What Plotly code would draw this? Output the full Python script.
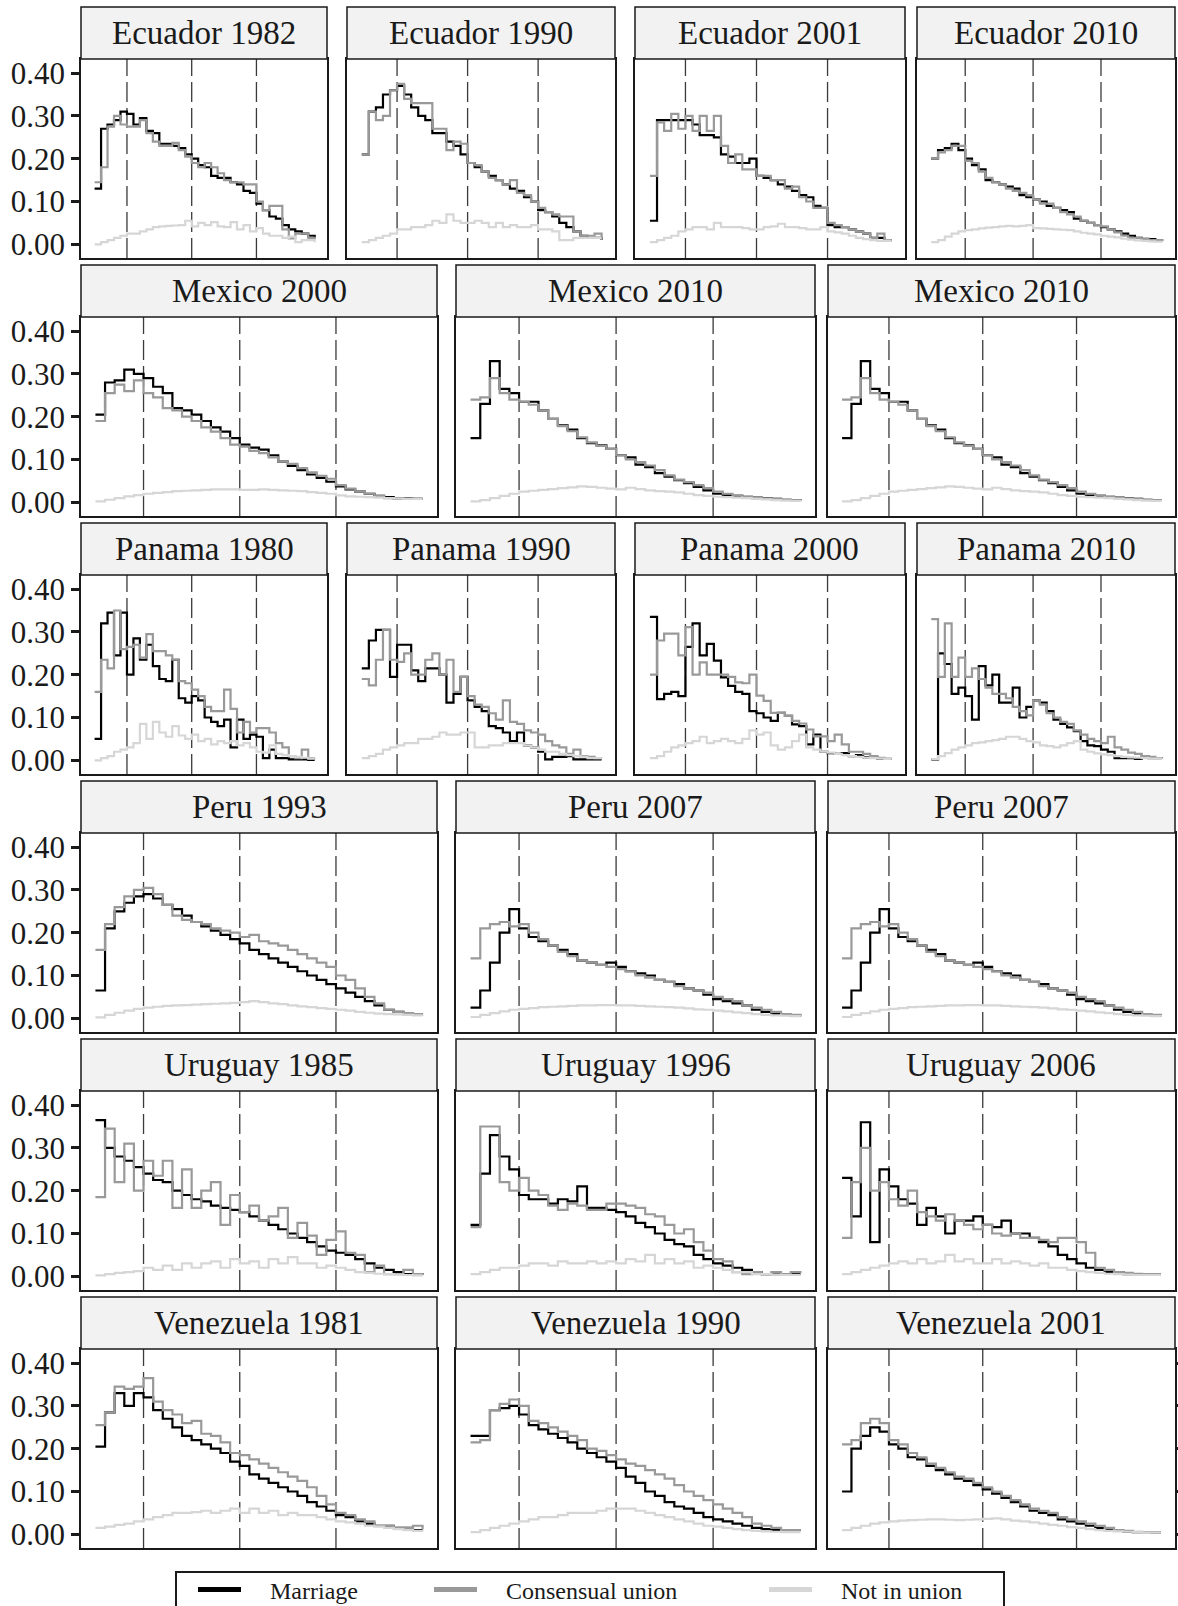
import plotly.graph_objects as go

# ---------------- data ----------------
ages = list(range(15, 50))
reference_ages = [20, 30, 40]
y_tick_values = [0.0, 0.1, 0.2, 0.3, 0.4]
y_tick_labels = ["0.00", "0.10", "0.20", "0.30", "0.40"]
series_names = ["Marriage", "Consensual union", "Not in union"]

ecuador_1982_marriage = [0.13, 0.27, 0.28, 0.29, 0.31, 0.305, 0.28, 0.295, 0.265, 0.26, 0.235, 0.235, 0.23, 0.225, 0.21, 0.20, 0.185, 0.18, 0.16, 0.155, 0.155, 0.145, 0.14, 0.125, 0.12, 0.095, 0.08, 0.065, 0.06, 0.045, 0.035, 0.03, 0.025, 0.02, 0.015]
ecuador_1982_consensual = [0.145, 0.18, 0.275, 0.30, 0.28, 0.275, 0.275, 0.29, 0.26, 0.24, 0.23, 0.23, 0.237, 0.22, 0.205, 0.19, 0.18, 0.19, 0.18, 0.166, 0.15, 0.145, 0.145, 0.14, 0.14, 0.10, 0.08, 0.09, 0.09, 0.035, 0.014, 0.025, 0.025, 0.015, 0.012]
ecuador_1982_not_in_union = [0.0, 0.005, 0.01, 0.015, 0.02, 0.025, 0.025, 0.03, 0.035, 0.04, 0.042, 0.043, 0.044, 0.045, 0.055, 0.042, 0.05, 0.045, 0.052, 0.042, 0.04, 0.052, 0.035, 0.045, 0.03, 0.038, 0.025, 0.02, 0.02, 0.015, 0.018, 0.005, 0.01, 0.01, 0.005]

ecuador_1990_marriage = [0.21, 0.31, 0.32, 0.35, 0.36, 0.37, 0.35, 0.32, 0.30, 0.29, 0.26, 0.26, 0.24, 0.23, 0.21, 0.19, 0.18, 0.17, 0.16, 0.15, 0.14, 0.13, 0.125, 0.11, 0.10, 0.08, 0.075, 0.065, 0.05, 0.04, 0.03, 0.02, 0.015, 0.015, 0.01]
ecuador_1990_consensual = [0.21, 0.31, 0.29, 0.30, 0.36, 0.375, 0.34, 0.33, 0.33, 0.33, 0.27, 0.27, 0.22, 0.24, 0.235, 0.19, 0.185, 0.17, 0.155, 0.15, 0.14, 0.15, 0.12, 0.115, 0.10, 0.085, 0.075, 0.07, 0.065, 0.065, 0.03, 0.02, 0.02, 0.025, 0.01]
ecuador_1990_not_in_union = [0.005, 0.01, 0.015, 0.02, 0.025, 0.035, 0.035, 0.04, 0.04, 0.045, 0.055, 0.05, 0.07, 0.055, 0.05, 0.05, 0.055, 0.05, 0.04, 0.05, 0.04, 0.045, 0.04, 0.04, 0.045, 0.035, 0.035, 0.03, 0.01, 0.01, 0.015, 0.015, 0.015, 0.015, 0.015]

ecuador_2001_marriage = [0.055, 0.29, 0.29, 0.29, 0.29, 0.29, 0.28, 0.255, 0.255, 0.25, 0.21, 0.205, 0.19, 0.19, 0.20, 0.16, 0.155, 0.15, 0.14, 0.135, 0.125, 0.115, 0.11, 0.09, 0.085, 0.045, 0.04, 0.04, 0.035, 0.03, 0.025, 0.015, 0.015, 0.01, 0.01]
ecuador_2001_consensual = [0.16, 0.285, 0.265, 0.305, 0.27, 0.30, 0.265, 0.30, 0.265, 0.30, 0.23, 0.19, 0.21, 0.175, 0.175, 0.16, 0.16, 0.15, 0.15, 0.13, 0.135, 0.11, 0.10, 0.085, 0.085, 0.05, 0.045, 0.04, 0.035, 0.03, 0.025, 0.015, 0.025, 0.01, 0.01]
ecuador_2001_not_in_union = [0.005, 0.01, 0.015, 0.02, 0.03, 0.035, 0.04, 0.04, 0.035, 0.05, 0.04, 0.04, 0.04, 0.038, 0.035, 0.035, 0.04, 0.042, 0.048, 0.04, 0.04, 0.038, 0.035, 0.035, 0.04, 0.03, 0.028, 0.025, 0.02, 0.015, 0.012, 0.01, 0.008, 0.008, 0.008]

ecuador_2010_marriage = [0.20, 0.22, 0.225, 0.235, 0.22, 0.20, 0.185, 0.175, 0.15, 0.145, 0.14, 0.135, 0.13, 0.115, 0.11, 0.105, 0.10, 0.09, 0.085, 0.08, 0.075, 0.06, 0.055, 0.05, 0.045, 0.04, 0.035, 0.03, 0.025, 0.02, 0.015, 0.013, 0.012, 0.01, 0.008]
ecuador_2010_consensual = [0.20, 0.215, 0.22, 0.23, 0.23, 0.195, 0.19, 0.17, 0.155, 0.145, 0.14, 0.13, 0.125, 0.12, 0.115, 0.105, 0.095, 0.095, 0.085, 0.075, 0.07, 0.065, 0.055, 0.05, 0.045, 0.042, 0.035, 0.028, 0.02, 0.015, 0.015, 0.012, 0.01, 0.01, 0.008]
ecuador_2010_not_in_union = [0.005, 0.01, 0.018, 0.025, 0.03, 0.033, 0.035, 0.037, 0.039, 0.04, 0.042, 0.043, 0.042, 0.043, 0.045, 0.038, 0.037, 0.036, 0.035, 0.034, 0.033, 0.03, 0.027, 0.025, 0.023, 0.02, 0.018, 0.016, 0.013, 0.011, 0.009, 0.008, 0.007, 0.006, 0.005]

mexico_2000_marriage = [0.205, 0.28, 0.285, 0.31, 0.30, 0.29, 0.27, 0.255, 0.22, 0.215, 0.205, 0.19, 0.175, 0.165, 0.15, 0.135, 0.128, 0.123, 0.11, 0.095, 0.085, 0.075, 0.065, 0.057, 0.048, 0.037, 0.03, 0.025, 0.02, 0.015, 0.012, 0.01, 0.009, 0.008, 0.008]
mexico_2000_consensual = [0.19, 0.255, 0.275, 0.26, 0.285, 0.255, 0.245, 0.22, 0.215, 0.20, 0.19, 0.175, 0.165, 0.15, 0.135, 0.13, 0.12, 0.115, 0.105, 0.095, 0.09, 0.08, 0.07, 0.062, 0.055, 0.04, 0.032, 0.025, 0.02, 0.015, 0.01, 0.008, 0.008, 0.009, 0.009]
mexico_2000_not_in_union = [0.002, 0.006, 0.01, 0.014, 0.017, 0.02, 0.022, 0.024, 0.026, 0.027, 0.028, 0.029, 0.03, 0.03, 0.03, 0.029, 0.029, 0.03, 0.029, 0.028, 0.027, 0.026, 0.024, 0.022, 0.02, 0.016, 0.014, 0.013, 0.012, 0.011, 0.01, 0.009, 0.008, 0.008, 0.008]

mexico_2010_marriage = [0.15, 0.23, 0.33, 0.265, 0.255, 0.235, 0.235, 0.215, 0.195, 0.18, 0.17, 0.15, 0.138, 0.133, 0.125, 0.11, 0.105, 0.088, 0.082, 0.068, 0.06, 0.052, 0.045, 0.036, 0.028, 0.02, 0.016, 0.015, 0.013, 0.011, 0.01, 0.008, 0.006, 0.005, 0.004]
mexico_2010_consensual = [0.24, 0.245, 0.29, 0.255, 0.24, 0.235, 0.228, 0.215, 0.195, 0.178, 0.166, 0.152, 0.14, 0.132, 0.125, 0.11, 0.10, 0.094, 0.086, 0.075, 0.063, 0.053, 0.047, 0.04, 0.033, 0.025, 0.02, 0.016, 0.013, 0.011, 0.009, 0.008, 0.006, 0.005, 0.004]
mexico_2010_not_in_union = [0.002, 0.005, 0.01, 0.015, 0.02, 0.025, 0.027, 0.029, 0.031, 0.033, 0.035, 0.037, 0.036, 0.034, 0.032, 0.03, 0.034, 0.031, 0.028, 0.026, 0.025, 0.023, 0.02, 0.017, 0.015, 0.013, 0.012, 0.011, 0.01, 0.008, 0.007, 0.005, 0.004, 0.003, 0.002]

panama_1980_marriage = [0.05, 0.32, 0.345, 0.245, 0.345, 0.20, 0.285, 0.235, 0.27, 0.22, 0.19, 0.185, 0.235, 0.145, 0.135, 0.15, 0.14, 0.10, 0.09, 0.08, 0.095, 0.03, 0.095, 0.05, 0.06, 0.055, 0.005, 0.025, 0.005, 0.005, 0.002, 0.002, 0.002, 0.001, 0.001]
panama_1980_consensual = [0.16, 0.235, 0.215, 0.35, 0.26, 0.265, 0.27, 0.24, 0.295, 0.255, 0.255, 0.245, 0.235, 0.185, 0.18, 0.165, 0.15, 0.125, 0.115, 0.115, 0.165, 0.12, 0.065, 0.09, 0.065, 0.075, 0.075, 0.065, 0.04, 0.03, 0.01, 0.005, 0.025, 0.005, 0.005]
panama_1980_not_in_union = [0.0, 0.005, 0.01, 0.02, 0.025, 0.03, 0.04, 0.085, 0.05, 0.09, 0.065, 0.055, 0.08, 0.058, 0.05, 0.06, 0.045, 0.05, 0.037, 0.045, 0.04, 0.045, 0.035, 0.04, 0.03, 0.02, 0.018, 0.035, 0.015, 0.012, 0.01, 0.008, 0.006, 0.004, 0.003]

panama_1990_marriage = [0.215, 0.28, 0.305, 0.305, 0.195, 0.27, 0.27, 0.21, 0.185, 0.215, 0.215, 0.20, 0.135, 0.155, 0.195, 0.14, 0.125, 0.115, 0.08, 0.075, 0.065, 0.045, 0.065, 0.035, 0.03, 0.02, 0.002, 0.008, 0.008, 0.01, 0.002, 0.002, 0.002, 0.002, 0.002]
panama_1990_consensual = [0.19, 0.175, 0.235, 0.305, 0.235, 0.23, 0.25, 0.20, 0.20, 0.235, 0.25, 0.20, 0.235, 0.16, 0.195, 0.15, 0.13, 0.125, 0.11, 0.095, 0.14, 0.09, 0.085, 0.07, 0.065, 0.06, 0.045, 0.035, 0.03, 0.015, 0.025, 0.01, 0.008, 0.005, 0.005]
panama_1990_not_in_union = [0.005, 0.01, 0.015, 0.025, 0.03, 0.035, 0.04, 0.04, 0.05, 0.05, 0.055, 0.065, 0.06, 0.06, 0.065, 0.065, 0.03, 0.03, 0.035, 0.035, 0.04, 0.04, 0.04, 0.035, 0.03, 0.025, 0.02, 0.02, 0.015, 0.012, 0.01, 0.008, 0.005, 0.005, 0.004]

panama_2000_marriage = [0.335, 0.143, 0.155, 0.16, 0.15, 0.265, 0.32, 0.245, 0.272, 0.233, 0.194, 0.174, 0.16, 0.155, 0.115, 0.11, 0.10, 0.092, 0.111, 0.104, 0.084, 0.08, 0.037, 0.06, 0.02, 0.017, 0.015, 0.017, 0.01, 0.012, 0.007, 0.008, 0.003, 0.003, 0.003]
panama_2000_consensual = [0.20, 0.28, 0.296, 0.296, 0.245, 0.311, 0.20, 0.229, 0.20, 0.20, 0.20, 0.195, 0.182, 0.18, 0.20, 0.151, 0.139, 0.111, 0.111, 0.104, 0.092, 0.086, 0.072, 0.056, 0.056, 0.045, 0.06, 0.037, 0.02, 0.02, 0.015, 0.01, 0.006, 0.004, 0.004]
panama_2000_not_in_union = [0.005, 0.01, 0.02, 0.03, 0.035, 0.04, 0.045, 0.055, 0.04, 0.045, 0.05, 0.045, 0.04, 0.05, 0.07, 0.06, 0.065, 0.035, 0.025, 0.03, 0.045, 0.06, 0.03, 0.025, 0.02, 0.018, 0.015, 0.012, 0.01, 0.008, 0.006, 0.005, 0.004, 0.003, 0.003]

panama_2010_marriage = [0.002, 0.25, 0.225, 0.155, 0.17, 0.15, 0.095, 0.22, 0.175, 0.20, 0.135, 0.135, 0.17, 0.10, 0.125, 0.14, 0.135, 0.115, 0.095, 0.085, 0.077, 0.068, 0.045, 0.035, 0.033, 0.025, 0.02, 0.005, 0.005, 0.005, 0.003, 0.01, 0.005, 0.005, 0.005]
panama_2010_consensual = [0.33, 0.195, 0.32, 0.195, 0.24, 0.195, 0.215, 0.19, 0.17, 0.155, 0.155, 0.145, 0.125, 0.115, 0.105, 0.14, 0.13, 0.11, 0.10, 0.09, 0.085, 0.07, 0.06, 0.05, 0.045, 0.04, 0.055, 0.03, 0.025, 0.018, 0.015, 0.01, 0.008, 0.005, 0.004]
panama_2010_not_in_union = [0.003, 0.01, 0.017, 0.025, 0.03, 0.035, 0.04, 0.042, 0.045, 0.047, 0.05, 0.055, 0.055, 0.05, 0.045, 0.042, 0.035, 0.033, 0.03, 0.035, 0.04, 0.045, 0.025, 0.02, 0.016, 0.014, 0.012, 0.01, 0.008, 0.007, 0.006, 0.005, 0.004, 0.004, 0.004]

peru_1993_marriage = [0.065, 0.21, 0.25, 0.27, 0.285, 0.29, 0.28, 0.265, 0.255, 0.24, 0.225, 0.215, 0.205, 0.195, 0.185, 0.175, 0.16, 0.15, 0.14, 0.13, 0.12, 0.11, 0.10, 0.09, 0.08, 0.07, 0.06, 0.05, 0.04, 0.03, 0.02, 0.015, 0.012, 0.01, 0.01]
peru_1993_consensual = [0.16, 0.22, 0.26, 0.285, 0.30, 0.305, 0.29, 0.265, 0.24, 0.23, 0.225, 0.22, 0.21, 0.205, 0.20, 0.19, 0.195, 0.18, 0.175, 0.17, 0.16, 0.15, 0.14, 0.13, 0.12, 0.10, 0.09, 0.07, 0.05, 0.035, 0.02, 0.015, 0.012, 0.01, 0.01]
peru_1993_not_in_union = [0.002, 0.008, 0.013, 0.018, 0.022, 0.025, 0.027, 0.029, 0.03, 0.031, 0.032, 0.033, 0.034, 0.035, 0.036, 0.038, 0.04, 0.038, 0.035, 0.033, 0.03, 0.028, 0.026, 0.024, 0.022, 0.02, 0.018, 0.015, 0.013, 0.011, 0.01, 0.009, 0.008, 0.007, 0.006]

peru_2007_marriage = [0.025, 0.065, 0.13, 0.20, 0.255, 0.21, 0.19, 0.18, 0.17, 0.16, 0.15, 0.135, 0.13, 0.125, 0.13, 0.12, 0.11, 0.105, 0.10, 0.09, 0.085, 0.08, 0.07, 0.065, 0.055, 0.045, 0.04, 0.035, 0.03, 0.02, 0.015, 0.01, 0.008, 0.006, 0.005]
peru_2007_consensual = [0.14, 0.21, 0.22, 0.225, 0.215, 0.22, 0.20, 0.185, 0.17, 0.155, 0.145, 0.135, 0.13, 0.125, 0.12, 0.115, 0.11, 0.10, 0.095, 0.09, 0.085, 0.075, 0.07, 0.065, 0.06, 0.05, 0.045, 0.04, 0.03, 0.025, 0.02, 0.015, 0.01, 0.008, 0.006]
peru_2007_not_in_union = [0.003, 0.008, 0.012, 0.016, 0.02, 0.022, 0.024, 0.026, 0.027, 0.028, 0.029, 0.03, 0.03, 0.031, 0.031, 0.03, 0.03, 0.029, 0.028, 0.027, 0.026, 0.025, 0.023, 0.021, 0.02, 0.018, 0.016, 0.014, 0.012, 0.01, 0.008, 0.007, 0.006, 0.005, 0.004]

uruguay_1985_marriage = [0.365, 0.30, 0.28, 0.27, 0.255, 0.24, 0.225, 0.22, 0.20, 0.19, 0.18, 0.175, 0.165, 0.16, 0.155, 0.15, 0.14, 0.13, 0.12, 0.11, 0.10, 0.09, 0.08, 0.07, 0.06, 0.055, 0.05, 0.04, 0.03, 0.02, 0.015, 0.01, 0.005, 0.005, 0.004]
uruguay_1985_consensual = [0.185, 0.345, 0.22, 0.31, 0.20, 0.27, 0.235, 0.27, 0.16, 0.25, 0.16, 0.20, 0.22, 0.12, 0.19, 0.15, 0.165, 0.13, 0.14, 0.16, 0.09, 0.125, 0.095, 0.05, 0.085, 0.105, 0.055, 0.05, 0.01, 0.025, 0.005, 0.005, 0.015, 0.005, 0.003]
uruguay_1985_not_in_union = [0.002, 0.005, 0.008, 0.01, 0.012, 0.02, 0.015, 0.025, 0.015, 0.03, 0.02, 0.03, 0.035, 0.02, 0.04, 0.03, 0.035, 0.02, 0.04, 0.03, 0.045, 0.03, 0.03, 0.02, 0.025, 0.02, 0.015, 0.01, 0.008, 0.006, 0.005, 0.004, 0.003, 0.002, 0.002]

uruguay_1996_marriage = [0.12, 0.24, 0.33, 0.28, 0.25, 0.19, 0.18, 0.18, 0.17, 0.18, 0.175, 0.21, 0.16, 0.16, 0.155, 0.15, 0.14, 0.125, 0.115, 0.10, 0.085, 0.075, 0.07, 0.05, 0.04, 0.03, 0.025, 0.02, 0.015, 0.01, 0.005, 0.005, 0.005, 0.005, 0.005]
uruguay_1996_consensual = [0.115, 0.35, 0.35, 0.22, 0.20, 0.23, 0.20, 0.19, 0.165, 0.155, 0.17, 0.165, 0.155, 0.155, 0.17, 0.17, 0.165, 0.16, 0.145, 0.14, 0.12, 0.10, 0.11, 0.08, 0.06, 0.04, 0.035, 0.01, 0.005, 0.01, 0.005, 0.01, 0.005, 0.01, 0.008]
uruguay_1996_not_in_union = [0.005, 0.01, 0.015, 0.02, 0.02, 0.025, 0.03, 0.03, 0.025, 0.035, 0.03, 0.03, 0.035, 0.03, 0.035, 0.03, 0.04, 0.035, 0.05, 0.03, 0.04, 0.03, 0.035, 0.02, 0.025, 0.02, 0.015, 0.01, 0.01, 0.005, 0.005, 0.004, 0.003, 0.003, 0.003]

uruguay_2006_marriage = [0.23, 0.14, 0.36, 0.08, 0.25, 0.21, 0.18, 0.17, 0.12, 0.16, 0.14, 0.10, 0.13, 0.13, 0.14, 0.12, 0.115, 0.13, 0.10, 0.10, 0.09, 0.08, 0.07, 0.05, 0.04, 0.03, 0.02, 0.015, 0.01, 0.01, 0.005, 0.005, 0.004, 0.004, 0.004]
uruguay_2006_consensual = [0.09, 0.22, 0.30, 0.20, 0.22, 0.18, 0.165, 0.20, 0.15, 0.14, 0.13, 0.145, 0.13, 0.12, 0.11, 0.12, 0.10, 0.095, 0.10, 0.09, 0.09, 0.085, 0.08, 0.09, 0.09, 0.08, 0.055, 0.02, 0.015, 0.01, 0.008, 0.006, 0.005, 0.005, 0.005]
uruguay_2006_not_in_union = [0.005, 0.01, 0.015, 0.02, 0.025, 0.03, 0.035, 0.03, 0.04, 0.03, 0.035, 0.05, 0.035, 0.04, 0.03, 0.03, 0.04, 0.03, 0.035, 0.03, 0.025, 0.03, 0.02, 0.02, 0.015, 0.012, 0.01, 0.008, 0.006, 0.005, 0.004, 0.003, 0.003, 0.003, 0.003]

venezuela_1981_marriage = [0.205, 0.285, 0.33, 0.30, 0.33, 0.32, 0.29, 0.27, 0.25, 0.23, 0.22, 0.21, 0.20, 0.19, 0.17, 0.16, 0.14, 0.13, 0.12, 0.11, 0.10, 0.09, 0.075, 0.065, 0.055, 0.045, 0.04, 0.03, 0.025, 0.02, 0.02, 0.015, 0.015, 0.01, 0.01]
venezuela_1981_consensual = [0.255, 0.285, 0.345, 0.34, 0.345, 0.365, 0.31, 0.29, 0.28, 0.26, 0.265, 0.235, 0.23, 0.215, 0.19, 0.185, 0.175, 0.165, 0.155, 0.145, 0.135, 0.125, 0.11, 0.09, 0.07, 0.05, 0.045, 0.035, 0.03, 0.02, 0.02, 0.015, 0.015, 0.02, 0.012]
venezuela_1981_not_in_union = [0.015, 0.018, 0.022, 0.025, 0.03, 0.035, 0.04, 0.045, 0.05, 0.05, 0.052, 0.055, 0.05, 0.055, 0.06, 0.05, 0.06, 0.05, 0.055, 0.045, 0.05, 0.045, 0.045, 0.04, 0.035, 0.03, 0.028, 0.025, 0.02, 0.018, 0.015, 0.012, 0.01, 0.008, 0.007]

venezuela_1990_marriage = [0.23, 0.23, 0.29, 0.295, 0.30, 0.28, 0.255, 0.245, 0.235, 0.225, 0.215, 0.20, 0.19, 0.18, 0.17, 0.155, 0.135, 0.12, 0.10, 0.09, 0.075, 0.065, 0.06, 0.05, 0.04, 0.035, 0.03, 0.025, 0.02, 0.015, 0.012, 0.01, 0.01, 0.01, 0.01]
venezuela_1990_consensual = [0.215, 0.22, 0.29, 0.305, 0.315, 0.30, 0.265, 0.26, 0.25, 0.24, 0.23, 0.22, 0.20, 0.195, 0.185, 0.175, 0.165, 0.16, 0.15, 0.14, 0.13, 0.115, 0.10, 0.09, 0.08, 0.07, 0.06, 0.05, 0.04, 0.025, 0.02, 0.015, 0.01, 0.01, 0.01]
venezuela_1990_not_in_union = [0.005, 0.01, 0.015, 0.02, 0.025, 0.03, 0.035, 0.04, 0.04, 0.045, 0.05, 0.05, 0.05, 0.055, 0.06, 0.06, 0.06, 0.055, 0.05, 0.045, 0.04, 0.035, 0.03, 0.025, 0.02, 0.018, 0.015, 0.012, 0.01, 0.008, 0.007, 0.006, 0.005, 0.005, 0.005]

venezuela_2001_marriage = [0.10, 0.20, 0.23, 0.25, 0.24, 0.21, 0.20, 0.18, 0.175, 0.16, 0.15, 0.14, 0.13, 0.125, 0.115, 0.105, 0.095, 0.085, 0.075, 0.065, 0.055, 0.05, 0.045, 0.035, 0.03, 0.025, 0.02, 0.015, 0.01, 0.008, 0.006, 0.005, 0.005, 0.004, 0.004]
venezuela_2001_consensual = [0.21, 0.22, 0.26, 0.27, 0.26, 0.22, 0.21, 0.19, 0.18, 0.165, 0.155, 0.145, 0.135, 0.13, 0.12, 0.11, 0.10, 0.09, 0.08, 0.07, 0.06, 0.055, 0.05, 0.04, 0.035, 0.03, 0.025, 0.02, 0.015, 0.01, 0.008, 0.006, 0.005, 0.005, 0.005]
venezuela_2001_not_in_union = [0.01, 0.015, 0.02, 0.025, 0.028, 0.03, 0.032, 0.033, 0.034, 0.035, 0.035, 0.034, 0.033, 0.034, 0.035, 0.036, 0.037, 0.035, 0.032, 0.03, 0.028, 0.025, 0.022, 0.02, 0.017, 0.015, 0.012, 0.01, 0.008, 0.007, 0.006, 0.005, 0.004, 0.004, 0.004]

panels = {
    "Ecuador 1982": (ecuador_1982_marriage, ecuador_1982_consensual, ecuador_1982_not_in_union),
    "Ecuador 1990": (ecuador_1990_marriage, ecuador_1990_consensual, ecuador_1990_not_in_union),
    "Ecuador 2001": (ecuador_2001_marriage, ecuador_2001_consensual, ecuador_2001_not_in_union),
    "Ecuador 2010": (ecuador_2010_marriage, ecuador_2010_consensual, ecuador_2010_not_in_union),
    "Mexico 2000": (mexico_2000_marriage, mexico_2000_consensual, mexico_2000_not_in_union),
    "Mexico 2010": (mexico_2010_marriage, mexico_2010_consensual, mexico_2010_not_in_union),
    "Panama 1980": (panama_1980_marriage, panama_1980_consensual, panama_1980_not_in_union),
    "Panama 1990": (panama_1990_marriage, panama_1990_consensual, panama_1990_not_in_union),
    "Panama 2000": (panama_2000_marriage, panama_2000_consensual, panama_2000_not_in_union),
    "Panama 2010": (panama_2010_marriage, panama_2010_consensual, panama_2010_not_in_union),
    "Peru 1993": (peru_1993_marriage, peru_1993_consensual, peru_1993_not_in_union),
    "Peru 2007": (peru_2007_marriage, peru_2007_consensual, peru_2007_not_in_union),
    "Uruguay 1985": (uruguay_1985_marriage, uruguay_1985_consensual, uruguay_1985_not_in_union),
    "Uruguay 1996": (uruguay_1996_marriage, uruguay_1996_consensual, uruguay_1996_not_in_union),
    "Uruguay 2006": (uruguay_2006_marriage, uruguay_2006_consensual, uruguay_2006_not_in_union),
    "Venezuela 1981": (venezuela_1981_marriage, venezuela_1981_consensual, venezuela_1981_not_in_union),
    "Venezuela 1990": (venezuela_1990_marriage, venezuela_1990_consensual, venezuela_1990_not_in_union),
    "Venezuela 2001": (venezuela_2001_marriage, venezuela_2001_consensual, venezuela_2001_not_in_union),
}

rows = [
    ["Ecuador 1982", "Ecuador 1990", "Ecuador 2001", "Ecuador 2010"],
    ["Mexico 2000", "Mexico 2010", "Mexico 2010"],
    ["Panama 1980", "Panama 1990", "Panama 2000", "Panama 2010"],
    ["Peru 1993", "Peru 2007", "Peru 2007"],
    ["Uruguay 1985", "Uruguay 1996", "Uruguay 2006"],
    ["Venezuela 1981", "Venezuela 1990", "Venezuela 2001"],
]

# ---------------- styling / geometry ----------------
W, H = 1178, 1606
SERIF = "Liberation Serif"
colors = ["#000000", "#999999", "#d6d6d6"]
col_px = {4: [(81, 327), (347, 615), (635, 905), (917, 1175)],
          3: [(81, 437), (456, 815), (828, 1175)]}
x_ranges = {4: [12.9, 50.9], 3: [13.5, 50.5]}
y_range = [-0.032, 0.433]
ROW0, ROW_STEP, STRIP_H, PANEL_H = 7, 258, 52, 251

fig = go.Figure()
layout = {}
shapes = []
annotations = []

k = 0
for r, names in enumerate(rows):
    strip_top = ROW0 + ROW_STEP * r
    plot_top = strip_top + STRIP_H
    plot_bottom = strip_top + PANEL_H
    n = len(names)
    for c, name in enumerate(names):
        k += 1
        x0, x1 = col_px[n][c]
        xa = "x" if k == 1 else f"x{k}"
        ya = "y" if k == 1 else f"y{k}"
        xkey = "xaxis" if k == 1 else f"xaxis{k}"
        ykey = "yaxis" if k == 1 else f"yaxis{k}"
        layout[xkey] = dict(domain=[x0 / W, x1 / W], range=x_ranges[n], anchor=ya,
                            showticklabels=False, ticks="", showgrid=False, zeroline=False,
                            showline=True, mirror=True, linecolor="#1a1a1a", linewidth=1.5,
                            fixedrange=True)
        first = (c == 0)
        layout[ykey] = dict(domain=[1 - plot_bottom / H, 1 - plot_top / H], range=y_range,
                            anchor=xa, showgrid=False, zeroline=False,
                            showline=True, mirror=True, linecolor="#1a1a1a", linewidth=1.5,
                            tickvals=y_tick_values, ticktext=y_tick_labels,
                            showticklabels=first, ticks="outside" if first else "",
                            ticklen=8, tickwidth=3, tickcolor="#1a1a1a",
                            tickfont=dict(family=SERIF, size=31, color="#1a1a1a"),
                            fixedrange=True)
        for vals, color, sname in zip(panels[name], colors, series_names):
            fig.add_trace(go.Scatter(x=ages, y=vals, mode="lines",
                                     line=dict(color=color, width=2.2, shape="hv"),
                                     xaxis=xa, yaxis=ya, name=sname,
                                     showlegend=False, hoverinfo="skip"))
        yref_dom = "y domain" if k == 1 else f"y{k} domain"
        for v in reference_ages:
            shapes.append(dict(type="line", xref=xa, yref=yref_dom, x0=v, x1=v, y0=0, y1=1,
                               line=dict(color="#3a3a3a", width=1.3, dash="20px,6px"),
                               layer="below"))
        shapes.append(dict(type="rect", xref="paper", yref="paper",
                           x0=x0 / W, x1=x1 / W,
                           y0=1 - plot_top / H, y1=1 - strip_top / H,
                           fillcolor="#f2f2f2", line=dict(color="#1a1a1a", width=1.5)))
        annotations.append(dict(text=name, xref="paper", yref="paper",
                                x=(x0 + x1) / 2 / W, y=1 - (strip_top + STRIP_H / 2) / H,
                                xanchor="center", yanchor="middle", showarrow=False,
                                font=dict(family=SERIF, size=33, color="#1a1a1a")))
        last_x, last_y = xa, ya

# stray right-side ticks beside the last panel (present in the original)
extra = k + 1
layout[f"yaxis{extra}"] = dict(overlaying=last_y, anchor=last_x, side="right", range=y_range,
                               tickvals=y_tick_values, showticklabels=False, ticks="outside",
                               ticklen=8, tickwidth=3, tickcolor="#1a1a1a",
                               showline=False, showgrid=False, zeroline=False, fixedrange=True)
fig.add_trace(go.Scatter(x=[None], y=[None], xaxis=last_x, yaxis=f"y{extra}",
                         showlegend=False, hoverinfo="skip"))

# legend (one legend per entry so each can be positioned like the original)
legend_keys = ["legend", "legend2", "legend3"]
legend_x_px = [193, 429, 764]
legend_y_px = 1590
PAD = "\u00a0\u00a0\u00a0\u00a0"
for sname, color, lk, lx in zip(series_names, colors, legend_keys, legend_x_px):
    fig.add_trace(go.Scatter(x=[None], y=[None], mode="lines",
                             line=dict(color=color, width=5), name=PAD + sname,
                             legend=lk, showlegend=True, xaxis="x", yaxis="y",
                             hoverinfo="skip"))
    layout[lk] = dict(x=lx / W, y=1 - legend_y_px / H, xanchor="left", yanchor="middle",
                      orientation="h", bgcolor="rgba(0,0,0,0)", borderwidth=0,
                      itemwidth=43,
                      font=dict(family=SERIF, size=24, color="#1a1a1a"))
shapes.append(dict(type="rect", xref="paper", yref="paper",
                   x0=176 / W, x1=1004 / W, y0=1 - 1630 / H, y1=1 - 1572 / H,
                   fillcolor="rgba(0,0,0,0)", line=dict(color="#1a1a1a", width=2)))

fig.update_layout(
    width=W, height=H,
    margin=dict(l=0, r=0, t=0, b=0, autoexpand=False),
    paper_bgcolor="white", plot_bgcolor="white",
    font=dict(family=SERIF, color="#1a1a1a"),
    shapes=shapes, annotations=annotations,
    **layout,
)

fig.write_html("out.html")
